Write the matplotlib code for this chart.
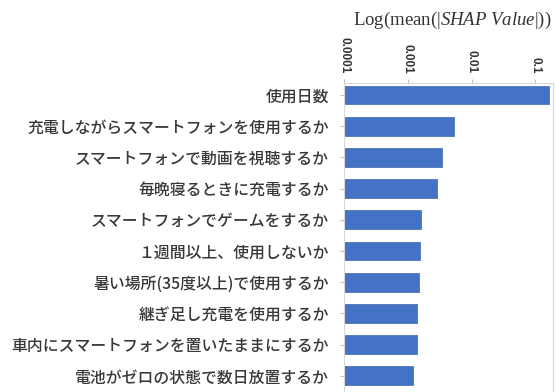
import matplotlib.pyplot as plt
from matplotlib.ticker import FixedLocator, FixedFormatter

plt.rcParams['font.family'] = ['Noto Sans CJK JP', 'DejaVu Sans']
plt.rcParams['mathtext.fontset'] = 'custom'
plt.rcParams['mathtext.it'] = 'Liberation Serif:italic'
plt.rcParams['mathtext.rm'] = 'Liberation Serif'

features = [
    '使用日数',
    '充電しながらスマートフォンを使用するか',
    'スマートフォンで動画を視聴するか',
    '毎晩寝るときに充電するか',
    'スマートフォンでゲームをするか',
    '１週間以上、使用しないか',
    '暑い場所(35度以上)で使用するか',
    '継ぎ足し充電を使用するか',
    '車内にスマートフォンを置いたままにするか',
    '電池がゼロの状態で数日放置するか',
]
shap_mean = [0.166, 0.0053, 0.0034, 0.00285, 0.0016,
             0.00156, 0.0015, 0.00141, 0.0014, 0.00121]

ticks = [0.0001, 0.001, 0.01, 0.1]
tick_labels = ['0.0001', '0.001', '0.01', '0.1']

fig = plt.figure(figsize=(5.55, 3.92), dpi=100)
ax = fig.add_axes([0.620, 0.0, 0.3766, 0.788])

base = 0.0001
y = list(range(len(features)))
widths = [v - base for v in shap_mean]
ax.barh(y, widths, left=base, height=0.6, color='#4472C4',
        edgecolor='#3c65b0', linewidth=0.5)

ax.set_xscale('log')
ax.set_xlim(0.0001, 0.19)
ax.set_ylim(9.52, -0.385)

ax.xaxis.tick_top()
ax.xaxis.set_major_locator(FixedLocator(ticks))
ax.xaxis.set_major_formatter(FixedFormatter(tick_labels))
ax.xaxis.set_minor_locator(FixedLocator([]))
ax.tick_params(axis='x', which='major', length=3, color='#bfbfbf',
               labelsize=8.5, labelcolor='#333333', labelrotation=-90, pad=4)
for lbl in ax.get_xticklabels():
    lbl.set_fontfamily(['Liberation Sans', 'DejaVu Sans'])
    lbl.set_fontweight('bold')

ax.set_yticks(y)
ax.set_yticklabels(features, fontsize=11.4, color='#383838', fontweight='medium')
ax.tick_params(axis='y', length=3, color='#bfbfbf', pad=8)

for side in ['top', 'left', 'right']:
    ax.spines[side].set_color('#d9d9d9')
    ax.spines[side].set_linewidth(0.8)
ax.spines['bottom'].set_visible(False)

fig.text(0.815, 0.948, r'Log(mean(|$SHAP\ Value$|))', ha='center', va='center',
         fontsize=13.5, family='Liberation Serif', color='#333333')

fig.savefig('out.png', dpi=100)
